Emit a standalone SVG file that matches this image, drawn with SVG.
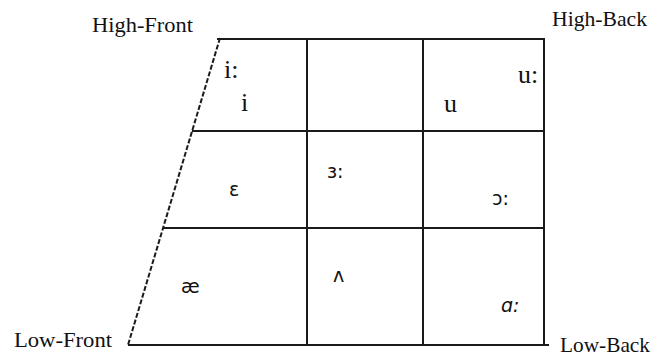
<svg xmlns="http://www.w3.org/2000/svg" width="657" height="364" viewBox="0 0 657 364">
<style>
.ln{stroke:#1a1a1a;stroke-width:2;fill:none}
.dash{stroke:#1a1a1a;stroke-width:2;fill:none;stroke-dasharray:5 2}
.lbl{font-family:"Liberation Serif","Times New Roman",serif;font-size:22px;fill:#111}
.v{font-family:"Liberation Serif","Times New Roman",serif;font-size:26px;fill:#111}
.ipa{font-family:"DejaVu Sans","Noto Sans",sans-serif;font-size:19px;fill:#111}
</style>
<rect width="657" height="364" fill="#fff"/>
<g id="connectors">
<line class="dash" x1="220" y1="38" x2="128" y2="345"/>
<line class="ln" x1="217" y1="39" x2="545" y2="39"/>
<line class="ln" x1="192" y1="131" x2="545" y2="131"/>
<line class="ln" x1="163" y1="228" x2="545" y2="228"/>
<line class="ln" x1="128" y1="345" x2="549" y2="345"/>
<line class="ln" x1="307" y1="39" x2="307" y2="345"/>
<line class="ln" x1="423" y1="39" x2="423" y2="345"/>
<line class="ln" x1="544" y1="38" x2="544" y2="346"/>
</g>
<g id="label-high-front"><text class="lbl" x="92" y="32" textLength="101" lengthAdjust="spacingAndGlyphs">High-Front</text></g>
<g id="label-high-back"><text class="lbl" x="552" y="26" textLength="95" lengthAdjust="spacingAndGlyphs">High-Back</text></g>
<g id="label-low-front"><text class="lbl" x="14" y="347" textLength="98" lengthAdjust="spacingAndGlyphs">Low-Front</text></g>
<g id="label-low-back"><text class="lbl" x="560" y="352" textLength="90" lengthAdjust="spacingAndGlyphs">Low-Back</text></g>
<g id="v-i-long"><text class="v" x="224" y="78">i:</text></g>
<g id="v-i"><text class="v" x="241" y="111">i</text></g>
<g id="v-u-long"><text class="v" x="518" y="83">u:</text></g>
<g id="v-u"><text class="v" x="444" y="112">u</text></g>
<g id="v-e"><text class="ipa" x="229" y="196">ɛ</text></g>
<g id="v-er"><text class="ipa" x="327" y="178">ɜ:</text></g>
<g id="v-or"><text class="ipa" x="492" y="205">ɔ:</text></g>
<g id="v-ae"><text class="ipa" x="181" y="293">æ</text></g>
<g id="v-uh"><text class="ipa" x="333" y="282">ʌ</text></g>
<g id="v-ar"><text class="ipa" x="501" y="312" font-style="italic" font-size="22">ɑ:</text></g>
</svg>
